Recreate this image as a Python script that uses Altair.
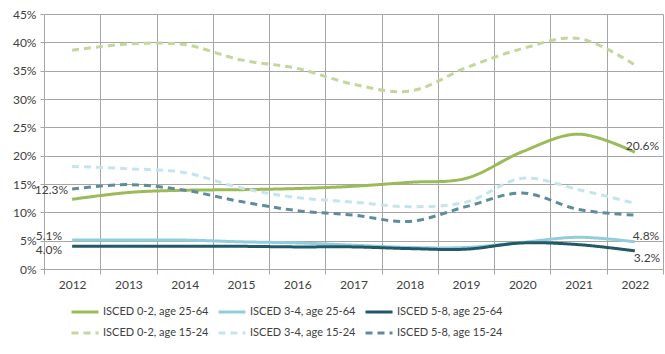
import altair as alt
import pandas as pd

years = [str(y) for y in range(2012, 2023)]
series_names = [
    "ISCED 0-2, age 25-64", "ISCED 3-4, age 25-64", "ISCED 5-8, age 25-64",
    "ISCED 0-2, age 15-24", "ISCED 3-4, age 15-24", "ISCED 5-8, age 15-24",
]
low_25_64 = [12.3, 13.5, 13.9, 14.0, 14.2, 14.6, 15.3, 16.0, 20.7, 23.8, 20.6]
mid_25_64 = [5.1, 5.1, 5.1, 4.8, 4.6, 4.2, 3.8, 3.8, 4.7, 5.6, 4.8]
high_25_64 = [4.0, 4.0, 4.0, 4.0, 3.9, 3.9, 3.6, 3.5, 4.6, 4.3, 3.2]
low_15_24 = [38.6, 39.7, 39.6, 36.9, 35.4, 32.6, 31.4, 35.5, 38.9, 40.7, 36.0]
mid_15_24 = [18.1, 17.7, 17.0, 14.3, 12.6, 11.8, 11.0, 11.8, 16.0, 14.0, 11.6]
high_15_24 = [14.1, 14.9, 13.9, 11.9, 10.3, 9.5, 8.4, 11.0, 13.4, 10.5, 9.5]
y_ticks = [0, 0.05, 0.10, 0.15, 0.20, 0.25, 0.30, 0.35, 0.40, 0.45]

all_series = [low_25_64, mid_25_64, high_25_64, low_15_24, mid_15_24, high_15_24]
colors = ["#9BBB59", "#92CDDC", "#215968", "#C3D69B", "#C5E5EE", "#5E8C9B"]
dashes = [[1, 0], [1, 0], [1, 0], [7, 5], [7, 5], [7, 5]]
widths = [3, 3, 3, 2, 2, 2]

rows = []
for si, (name, vals) in enumerate(zip(series_names, all_series)):
    for yr, v in zip(years, vals):
        rows.append({"series": name, "year": yr, "value": v / 100, "order": si})
df = pd.DataFrame(rows)

FONT = "Lato"
GRID = "#A6A6A6"
TXT = "#404040"

legend = alt.Legend(
    title=None, orient="none", legendX=26, legendY=283, direction="horizontal",
    columns=3, symbolType="stroke", symbolSize=729, labelFont=FONT,
    labelFontSize=11, labelColor=TXT, columnPadding=3, rowPadding=-5,
    labelOffset=3, symbolStrokeWidth=2.5, labelLimit=0,
)

x_scale = alt.Scale(type="band", domain=years, paddingInner=0, paddingOuter=0)
y_scale = alt.Scale(domain=[0, 0.45], nice=False)
x_enc = alt.X(
    "year:O",
    scale=x_scale,
    axis=alt.Axis(
        title=None, labelAngle=0, tickBand="extent", grid=True, gridColor=GRID,
        domainColor=GRID, tickColor=GRID, tickSize=5, labelPadding=5,
        labelFont=FONT, labelFontSize=12, labelColor=TXT,
    ),
)
y_enc = alt.Y(
    "value:Q",
    scale=y_scale,
    axis=alt.Axis(
        title=None, values=y_ticks, format=".0%", grid=True, gridColor=GRID,
        domain=False, tickColor=GRID, tickSize=4, labelPadding=4,
        labelFont=FONT, labelFontSize=12, labelColor=TXT, labelOverlap=False,
    ),
)

lines = alt.Chart(df).mark_line(interpolate="catmull-rom").encode(
    x=x_enc,
    y=y_enc,
    color=alt.Color("series:N", scale=alt.Scale(domain=series_names, range=colors), legend=legend),
    strokeDash=alt.StrokeDash("series:N", scale=alt.Scale(domain=series_names, range=dashes), legend=legend),
    strokeWidth=alt.StrokeWidth("series:N", scale=alt.Scale(domain=series_names, range=widths), legend=legend),
    order=alt.Order("order:Q"),
)

# data labels: (series index, year index, align, dx, dy)
label_specs = [
    (0, 0, "right", -4, -9),
    (1, 0, "right", -10, -4),
    (2, 0, "right", -10, 4),
    (0, 10, "left", -9, -6),
    (1, 10, "left", -2, -6),
    (2, 10, "left", -1, 7),
]
layers = [lines]
for si, yi, al, dx, dy in label_specs:
    v = all_series[si][yi]
    ldf = pd.DataFrame({"year": [years[yi]], "value": [v / 100], "label": [f"{v:.1f}%"]})
    layers.append(
        alt.Chart(ldf).mark_text(
            align=al, baseline="middle", dx=dx, dy=dy, font=FONT, fontSize=12, color=TXT
        ).encode(x=x_enc, y=y_enc, text="label:N")
    )

chart = alt.layer(*layers).properties(
    width=619, height=255,
    autosize=alt.AutoSizeParams(type="none"),
    padding={"left": 44, "top": 14, "right": 2, "bottom": 85},
    background="white",
).configure_view(stroke=None)

chart.save("out.html", embed_options={"renderer": "svg", "actions": False})
